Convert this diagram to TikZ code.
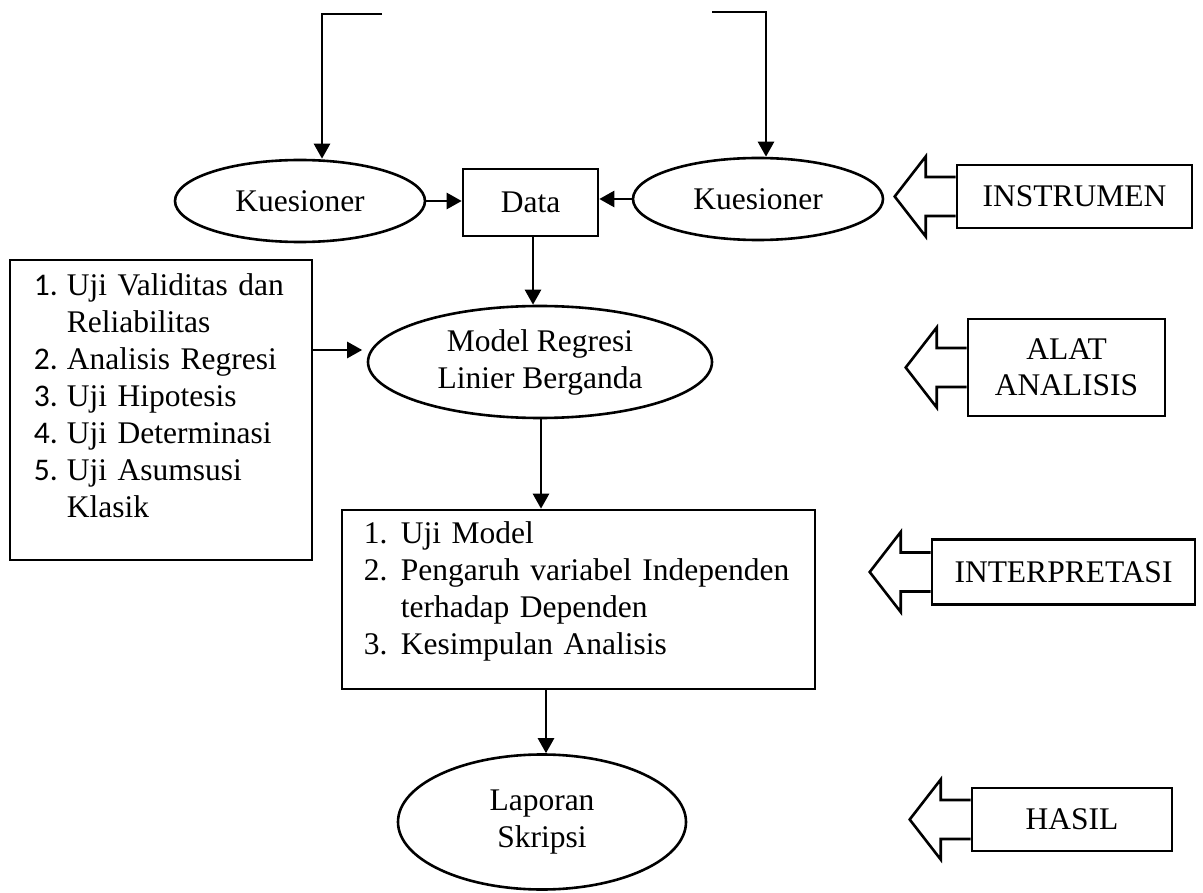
\documentclass[tikz,border=0pt]{standalone}
\usepackage{fontspec}
\setmainfont{Liberation Serif}
\newfontfamily\calib{Carlito}
\usetikzlibrary{shapes.geometric,arrows.meta,calc}
\newcommand\blkarrow[1]{\draw[line] ($(#1.west)+(0,19.5)$) -- ++(-30,0) -- ++(0,20.5) -- ++(-31,-40) -- ++(31,-40) -- ++(0,20.5) -- ($(#1.west)+(0,-19.5)$);}
\begin{document}
\begin{tikzpicture}[x=1pt,y=-1pt,
  line/.style={line width=2.6pt, line join=miter},
  arr/.style={line, -{Triangle[length=15pt,width=16pt]}},
  txt/.style={font=\fontsize{31.5}{37}\selectfont},
  box/.style={draw, line width=2.6pt, inner sep=0pt, txt},
  ell/.style={draw, ellipse, line width=2.6pt, inner sep=0pt, align=center, txt},
  list/.style={inner sep=0pt, align=left, anchor=north west, font=\fontsize{31.5}{37}\selectfont}]
\useasboundingbox (0,0) rectangle (1203,893);

% main nodes
\node[ell, minimum width=250pt, minimum height=82pt] (kL) at (300,201) {Kuesioner};
\node[ell, minimum width=250pt, minimum height=82pt] (kR) at (758,199) {Kuesioner};
\node[box, minimum width=135pt, minimum height=67pt] (data) at (530.5,202.5) {Data};
\node[ell, minimum width=344pt, minimum height=112pt] (model) at (540,362) {Model Regresi\\Linier Berganda};
\node[box, minimum width=302pt, minimum height=300pt] (lb) at (161,410) {};
\node[list, text width=260pt] (lbt) at ($(lb.north west)+(25,15)$)
  {\makebox[33pt][l]{\calib 1.}Uji Validitas dan\\
   \hspace*{33pt}Reliabilitas\\
   \makebox[33pt][l]{\calib 2.}Analisis Regresi\\
   \makebox[33pt][l]{\calib 3.}Uji Hipotesis\\
   \makebox[33pt][l]{\calib 4.}Uji Determinasi\\
   \makebox[33pt][l]{\calib 5.}Uji Asumsusi\\
   \hspace*{33pt}Klasik};
\node[box, minimum width=473pt, minimum height=179pt] (b2) at (578.5,599.5) {};
\node[list, text width=440pt] (b2t) at ($(b2.north west)+(23,13)$)
  {\makebox[37pt][l]{1.}Uji Model\\
   \makebox[37pt][l]{2.}Pengaruh variabel Independen\\
   \hspace*{37pt}terhadap Dependen\\
   \makebox[37pt][l]{3.}Kesimpulan Analisis};
\node[ell, minimum width=288pt, minimum height=135pt] (lap) at (542,822) {Laporan\\Skripsi};

% right labels
\node[box, minimum width=235pt, minimum height=63pt] (ins) at (1074.5,196.5) {INSTRUMEN};
\node[box, minimum width=197pt, minimum height=97pt, align=center, font=\fontsize{31.5}{36}\selectfont] (alat) at (1066.5,367.5) {ALAT\\ANALISIS};
\node[box, minimum width=263pt, minimum height=65pt] (intp) at (1063.5,572) {INTERPRETASI};
\node[box, minimum width=200pt, minimum height=63pt] (has) at (1072,819.5) {HASIL};

\blkarrow{ins}
\blkarrow{alat}
\blkarrow{intp}
\blkarrow{has}

% connectors
\coordinate (tlA) at (382,14);
\coordinate (tlB) at (322,14);
\coordinate (trA) at (712,12);
\coordinate (trB) at (766,12);
\draw[arr] (tlA) -- (tlB) -- (tlB |- kL.north);
\draw[arr] (trA) -- (trB) -- (trB |- kR.north);
\draw[arr] (kL.east) -- (kL.east -| data.west);
\draw[arr] (kR.west) -- (kR.west -| data.east);
\draw[arr] ([xshift=2.5pt]data.south) -- ([xshift=2.5pt]data.south |- model.north);
\draw[arr, shorten >=4.5pt] ([yshift=60pt]lb.east) -- ([yshift=60pt]lb.east -| model.west);
\draw[arr] ([xshift=1pt]model.south) -- ([xshift=1pt]model.south |- b2.north);
\draw[arr] ([xshift=4pt]lap.north |- b2.south) -- ([xshift=4pt]lap.north);
\end{tikzpicture}
\end{document}
